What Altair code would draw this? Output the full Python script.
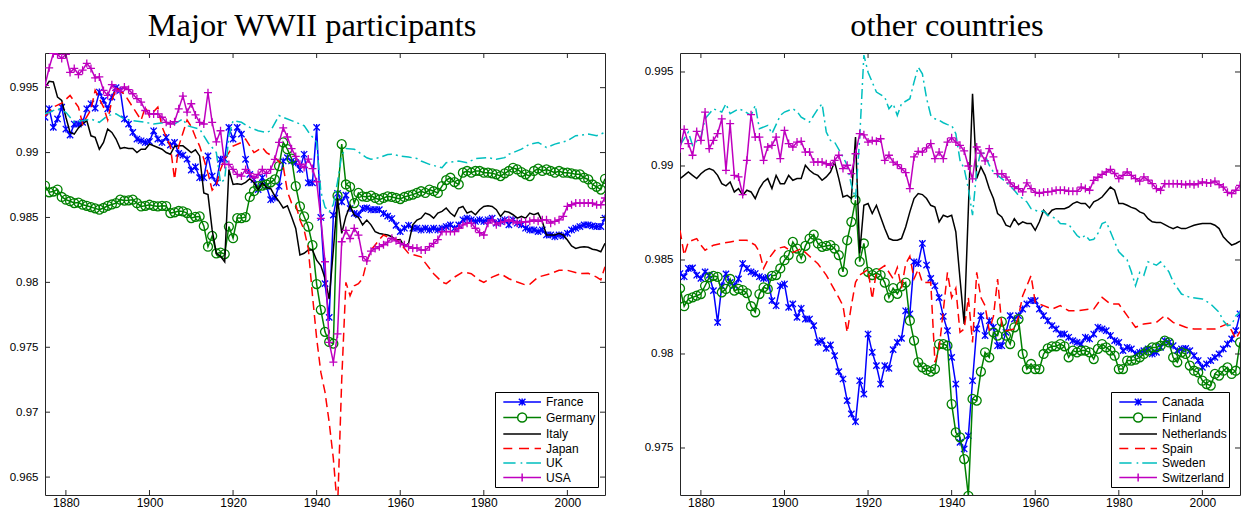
import altair as alt
import pandas as pd

YEARS = list(range(1875, 2010))
X_TICKS = [1880, 1900, 1920, 1940, 1960, 1980, 2000]
Y_TICKS_L = [0.965, 0.97, 0.975, 0.98, 0.985, 0.99, 0.995]
Y_TICKS_R = [0.975, 0.98, 0.985, 0.99, 0.995]

# ---------------- left panel: Major WWII participants ----------------
FRANCE = [
    .99272, .99337, .99194, .99259, .99350, .99181, .99135, .99220, .99220, .99233,
    .99337, .99376, .99342, .99466, .99402, .99337, .99427, .99500, .99480, .99259,
    .99220, .99155, .99104, .99091, .99078, .99085, .99168, .99104, .99078, .99117,
    .99057, .99078, .98994, .98980, .98950, .98865, .98890, .98806, .98806, .98974,
    .98819, .98767, .98948, .98950, .99194, .99104, .99194, .99142, .98948, .98832,
    .98793, .98715, .98806, .98740, .98637, .98650, .98741, .98935, .98961, .98935,
    .98922, .98870, .98987, .98767, .98767, .99194, .98500, .97990, .97730, .98518,
    .98685, .98621, .98672, .98569, .98531, .98520, .98569, .98574, .98560, .98560,
    .98560, .98531, .98510, .98492, .98440, .98391, .98417, .98440, .98417, .98417,
    .98404, .98417, .98404, .98417, .98404, .98417, .98430, .98443, .98417, .98443,
    .98482, .98495, .98482, .98469, .98482, .98469, .98482, .98495, .98456, .98469,
    .98482, .98443, .98482, .98456, .98443, .98417, .98404, .98404, .98391, .98404,
    .98365, .98365, .98352, .98365, .98358, .98378, .98404, .98417, .98430, .98443,
    .98443, .98435, .98430, .98430, .98495]
GERMANY = [
    .98746, .98694, .98700, .98715, .98658, .98637, .98625, .98611, .98615, .98598,
    .98590, .98580, .98570, .98560, .98573, .98590, .98600, .98610, .98637, .98630,
    .98632, .98637, .98610, .98585, .98590, .98598, .98590, .98585, .98590, .98588,
    .98534, .98540, .98550, .98547, .98534, .98495, .98505, .98508, .98435, .98275,
    .98358, .98223, .98230, .98218, .98430, .98340, .98495, .98495, .98503, .98658,
    .98702, .98741, .98745, .98754, .98770, .98793, .98896, .99078, .99026, .98953,
    .98741, .98585, .98508, .98430, .98287, .97987, .97789, .97619, .97541, .97528,
    .98668, .99065, .98754, .98736, .98611, .98689, .98663, .98658, .98668, .98650,
    .98637, .98650, .98663, .98658, .98650, .98642, .98658, .98668, .98676, .98689,
    .98702, .98689, .98715, .98702, .98689, .98741, .98788, .98806, .98772, .98754,
    .98845, .98858, .98845, .98858, .98858, .98845, .98845, .98840, .98832, .98819,
    .98840, .98858, .98883, .98870, .98850, .98832, .98819, .98858, .98876, .98858,
    .98870, .98858, .98845, .98858, .98845, .98845, .98840, .98832, .98832, .98806,
    .98793, .98754, .98736, .98715, .98798]
ITALY = [
    .99500, .99549, .99544, .99427, .99402, .99272, .99155, .99142, .99190, .99220,
    .99246, .99129, .99117, .99026, .99078, .99181, .99155, .99104, .99031, .99039,
    .99031, .99031, .99000, .99026, .99026, .99065, .99052, .99039, .99026, .99000,
    .98987, .99047, .99052, .99052, .99026, .99000, .99021, .98974, .98689, .98676,
    .98404, .98223, .98200, .98158, .98870, .98754, .98760, .98754, .98770, .98798,
    .98767, .98715, .98767, .98730, .98723, .98665, .98624, .98573, .98590, .98506,
    .98415, .98211, .98224, .98250, .98249, .98171, .98130, .98031, .97872, .98250,
    .98650, .98378, .98508, .98590, .98518, .98500, .98443, .98480, .98443, .98390,
    .98377, .98370, .98365, .98352, .98326, .98330, .98275, .98300, .98443, .98480,
    .98495, .98534, .98521, .98495, .98534, .98547, .98573, .98534, .98508, .98573,
    .98585, .98534, .98547, .98521, .98560, .98585, .98590, .98585, .98560, .98508,
    .98547, .98540, .98521, .98495, .98508, .98495, .98534, .98521, .98534, .98469,
    .98365, .98365, .98365, .98378, .98365, .98326, .98280, .98262, .98270, .98275,
    .98270, .98255, .98249, .98236, .98301]
JAPAN = [
    (1875, .99280), (1877, .99350), (1879, .99380), (1881, .99440), (1883, .99350),
    (1884, .99220), (1886, .99330), (1887, .99480), (1889, .99350), (1890, .99250),
    (1891, .99400), (1892, .99500), (1894, .99450), (1896, .99350), (1898, .99250),
    (1899, .99350), (1900, .99280), (1902, .99350), (1903, .99200), (1904, .99120),
    (1905, .99050), (1906, .98793), (1907, .99050), (1908, .99150), (1909, .99250),
    (1910, .99200), (1911, .99120), (1912, .99050), (1913, .98950), (1914, .98840),
    (1915, .98710), (1916, .98750), (1917, .98870), (1918, .98950), (1919, .99000),
    (1920, .99050), (1922, .99078), (1923, .99104), (1925, .99000), (1927, .99039),
    (1928, .99000), (1930, .98961), (1931, .98930), (1932, .98896), (1933, .98700),
    (1934, .98611), (1935, .98600), (1936, .98482), (1937, .98404), (1938, .98262),
    (1939, .97900), (1940, .97570), (1941, .97308), (1942, .97154), (1943, .96923),
    (1944, .96641), (1945, .96250), (1946, .97250), (1947, .98000), (1948, .97897),
    (1949, .97974), (1950, .97990), (1951, .98031), (1952, .98160), (1953, .98250),
    (1954, .98288), (1955, .98330), (1956, .98365), (1957, .98350), (1958, .98340),
    (1959, .98330), (1960, .98300), (1962, .98223), (1965, .98197), (1966, .98150),
    (1968, .98067), (1970, .98003), (1971, .97990), (1973, .98041), (1975, .98080),
    (1977, .98067), (1979, .98016), (1980, .98000), (1982, .98041), (1984, .98067),
    (1986, .98028), (1988, .98003), (1990, .97980), (1991, .97985), (1993, .98041),
    (1996, .98067), (1998, .98093), (2000, .98093), (2003, .98067), (2005, .98070),
    (2007, .98041), (2008, .98020), (2009, .98120)]
UK = [
    (1875, .99298), (1876, .99311), (1878, .99337), (1880, .99310), (1882, .99233),
    (1884, .99246), (1886, .99259), (1888, .99233), (1890, .99285), (1892, .99298),
    (1894, .99259), (1896, .99246), (1899, .99233), (1901, .99220), (1904, .99233),
    (1906, .99220), (1908, .99259), (1909, .99207), (1912, .99181), (1914, .99078),
    (1916, .99000), (1917, .98767), (1918, .98793), (1919, .99130), (1920, .99246),
    (1922, .99233), (1924, .99194), (1926, .99168), (1928, .99155), (1929, .99168),
    (1931, .99285), (1932, .99272), (1934, .99246), (1936, .99220), (1937, .99207),
    (1938, .99160), (1939, .99120), (1940, .99080), (1941, .98700), (1942, .98580),
    (1943, .98544), (1944, .98600), (1945, .98775), (1946, .98980), (1947, .99031),
    (1949, .99026), (1950, .99005), (1952, .98960), (1953, .98948), (1955, .98961),
    (1957, .98985), (1958, .98987), (1960, .98974), (1962, .98965), (1964, .98954),
    (1965, .98935), (1967, .98909), (1970, .98883), (1971, .98922), (1974, .98935),
    (1976, .98922), (1978, .98953), (1981, .98961), (1983, .98948), (1985, .98961),
    (1986, .98987), (1989, .99026), (1991, .99065), (1993, .99078), (1995, .99039),
    (1997, .99065), (2000, .99091), (2002, .99130), (2005, .99142), (2007, .99130),
    (2009, .99155)]
USA = [
    .99518, .99653, .99764, .99756, .99725, .99756, .99617, .99648, .99601, .99635,
    .99687, .99648, .99575, .99583, .99479, .99440, .99523, .99479, .99472, .99505,
    .99485, .99453, .99415, .99389, .99324, .99298, .99298, .99298, .99272, .99233,
    .99220, .99238, .99337, .99435, .99311, .99376, .99290, .99233, .99220, .99461,
    .99233, .99083, .99168, .98909, .98909, .98870, .98832, .98819, .98870, .98839,
    .98806, .98832, .98870, .98839, .98870, .98948, .99078, .99190, .99120, .99030,
    .98970, .98910, .98885, .98950, .98877, .98775, .98493, .98159, .97538, .97385,
    .97603, .98313, .98400, .98338, .98416, .98364, .98198, .98165, .98240, .98260,
    .98275, .98290, .98310, .98340, .98320, .98300, .98290, .98275, .98262, .98265,
    .98249, .98249, .98275, .98300, .98330, .98391, .98391, .98391, .98391, .98417,
    .98443, .98456, .98456, .98417, .98383, .98365, .98456, .98482, .98443, .98460,
    .98470, .98482, .98470, .98456, .98465, .98465, .98470, .98482, .98470, .98482,
    .98482, .98456, .98470, .98482, .98508, .98585, .98598, .98611, .98611, .98611,
    .98611, .98611, .98598, .98598, .98650]

# ---------------- right panel: other countries ----------------
CANADA = [
    .98428, .98411, .98455, .98458, .98419, .98402, .98437, .98419, .98337, .98168,
    .98363, .98426, .98381, .98363, .98399, .98481, .98455, .98437, .98428, .98411,
    .98402, .98408, .98284, .98257, .98363, .98372, .98248, .98266, .98195, .98243,
    .98186, .98186, .98151, .98062, .98071, .98030, .98048, .97991, .97906, .97867,
    .97752, .97681, .97640, .97858, .97787, .98106, .98009, .97938, .97840, .97938,
    .97924, .98023, .98062, .98083, .98230, .98213, .98490, .98481, .98588, .98473,
    .98402, .98363, .98300, .98200, .98124, .97982, .97840, .97530, .97495, .97566,
    .97858, .98133, .98204, .98098, .98177, .98142, .98044, .98044, .98115, .98204,
    .98186, .98204, .98239, .98266, .98284, .98284, .98239, .98204, .98177, .98151,
    .98133, .98106, .98106, .98089, .98071, .98062, .98053, .98089, .98080, .98106,
    .98142, .98133, .98124, .98098, .98071, .98062, .98018, .98035, .98027, .98000,
    .98009, .98018, .98027, .98000, .98009, .98035, .98071, .98062, .98044, .98018,
    .98027, .98030, .98018, .97991, .97965, .97929, .97947, .97965, .97982, .98000,
    .98027, .98053, .98080, .98124, .98213]
FINLAND = [
    .98349, .98254, .98293, .98301, .98310, .98319, .98363, .98408, .98416, .98410,
    .98328, .98346, .98399, .98337, .98346, .98340, .98324, .98254, .98222, .98319,
    .98355, .98346, .98416, .98420, .98455, .98499, .98526, .98596, .98561, .98508,
    .98575, .98614, .98635, .98588, .98570, .98575, .98579, .98561, .98526, .98437,
    .98605, .98703, .98818, .98491, .98588, .98437, .98420, .98430, .98420, .98380,
    .98300, .98350, .98320, .98360, .98380, .98177, .98071, .97956, .97929, .97915,
    .97906, .97920, .98053, .98053, .98044, .97734, .97583, .97557, .97441, .97246,
    .97761, .97752, .97906, .98009, .97982, .98115, .98098, .98172, .98098, .98053,
    .98142, .98186, .98000, .97920, .97947, .97920, .97920, .98000, .98030, .98041,
    .98041, .98053, .98041, .97982, .98018, .98009, .98018, .98018, .98009, .97973,
    .98027, .98053, .98035, .98018, .97991, .97920, .97920, .97965, .97965, .97970,
    .97982, .98000, .98018, .98035, .98035, .98044, .98071, .98062, .97982, .97956,
    .98009, .98000, .97938, .97911, .97902, .97858, .97840, .97832, .97894, .97885,
    .97911, .97929, .97894, .97911, .98062]
NETHERLANDS = [
    .98933, .98950, .98968, .98950, .98933, .98959, .98977, .98986, .98977, .98950,
    .98906, .98894, .98915, .98862, .98880, .98844, .98871, .98862, .98827, .98880,
    .98915, .98933, .98880, .98950, .98906, .98906, .98950, .98924, .98933, .98933,
    .99004, .98977, .98959, .98950, .98924, .98942, .98968, .99021, .98933, .98835,
    .98844, .98827, .99154, .98535, .98791, .98800, .98747, .98791, .98729, .98667,
    .98614, .98605, .98605, .98614, .98676, .98756, .98827, .98853, .98848, .98827,
    .98791, .98782, .98703, .98738, .98729, .98738, .98650, .98400, .98160, .98770,
    .99384, .98933, .98995, .98950, .98880, .98827, .98747, .98729, .98685, .98676,
    .98720, .98688, .98703, .98694, .98694, .98658, .98703, .98765, .98738, .98765,
    .98773, .98773, .98773, .98782, .98800, .98809, .98800, .98800, .98777, .98809,
    .98820, .98835, .98862, .98888, .98871, .98800, .98800, .98791, .98780, .98773,
    .98756, .98747, .98720, .98703, .98700, .98700, .98688, .98676, .98667, .98676,
    .98667, .98667, .98676, .98685, .98690, .98694, .98694, .98694, .98685, .98667,
    .98623, .98600, .98579, .98588, .98600]
SPAIN = [
    (1875, .98658), (1876, .98526), (1877, .98596), (1879, .98614), (1880, .98579),
    (1881, .98552), (1883, .98579), (1885, .98588), (1887, .98596), (1889, .98605),
    (1891, .98605), (1893, .98579), (1894, .98543), (1895, .98455), (1896, .98500),
    (1898, .98560), (1900, .98570), (1902, .98540), (1904, .98560), (1906, .98520),
    (1908, .98480), (1910, .98420), (1911, .98380), (1913, .98300), (1914, .98257),
    (1915, .98115), (1916, .98257), (1917, .98381), (1918, .98420), (1920, .98450),
    (1921, .98292), (1922, .98440), (1924, .98470), (1926, .98400), (1927, .98460),
    (1928, .98350), (1929, .98480), (1930, .98520), (1931, .98400), (1932, .98450),
    (1933, .98380), (1935, .98381), (1936, .97956), (1937, .98027), (1939, .98434),
    (1940, .98300), (1941, .98350), (1942, .98115), (1943, .98133), (1944, .98300),
    (1945, .98062), (1946, .98434), (1947, .98300), (1948, .98257), (1949, .98124),
    (1950, .98200), (1951, .98399), (1952, .98151), (1953, .98124), (1955, .98133),
    (1956, .98200), (1957, .98310), (1959, .98417), (1960, .98275), (1962, .98257),
    (1964, .98239), (1966, .98257), (1968, .98230), (1970, .98230), (1973, .98239),
    (1974, .98239), (1976, .98301), (1978, .98266), (1980, .98266), (1982, .98204),
    (1984, .98142), (1986, .98160), (1989, .98168), (1991, .98204), (1993, .98168),
    (1996, .98142), (1998, .98133), (2001, .98133), (2003, .98133), (2006, .98160),
    (2007, .98124), (2008, .98080), (2009, .98120)]
SWEDEN = [
    (1875, .99110), (1877, .99181), (1878, .99110), (1880, .99154), (1881, .99251),
    (1883, .99304), (1885, .99287), (1886, .99331), (1887, .99278), (1889, .99304),
    (1890, .99296), (1892, .99269), (1893, .99322), (1894, .99198), (1896, .99216),
    (1897, .99172), (1899, .99269), (1900, .99287), (1902, .99304), (1903, .99290),
    (1904, .99260), (1906, .99234), (1907, .99269), (1908, .99304), (1909, .99331),
    (1910, .99181), (1911, .99136), (1912, .99127), (1914, .99048), (1915, .99004),
    (1916, .98900), (1917, .98827), (1918, .99150), (1919, .99590), (1920, .99499),
    (1921, .99446), (1922, .99393), (1924, .99366), (1925, .99304), (1926, .99331),
    (1927, .99269), (1928, .99331), (1930, .99358), (1931, .99446), (1932, .99526),
    (1933, .99490), (1934, .99360), (1935, .99270), (1936, .99251), (1937, .99243),
    (1938, .99230), (1939, .99220), (1940, .99216), (1941, .99172), (1942, .99030),
    (1943, .98986), (1944, .98880), (1945, .98738), (1946, .98977), (1947, .99083),
    (1948, .99057), (1949, .99004), (1950, .98968), (1951, .98950), (1953, .98915),
    (1955, .98871), (1956, .98844), (1958, .98809), (1959, .98773), (1961, .98756),
    (1962, .98760), (1963, .98738), (1965, .98720), (1966, .98694), (1968, .98690),
    (1970, .98630), (1971, .98614), (1972, .98632), (1973, .98605), (1974, .98610),
    (1975, .98641), (1976, .98694), (1977, .98703), (1978, .98650), (1979, .98596),
    (1980, .98543), (1982, .98500), (1983, .98437), (1984, .98363), (1985, .98434),
    (1986, .98419), (1987, .98490), (1989, .98472), (1990, .98490), (1992, .98437),
    (1993, .98384), (1995, .98319), (1997, .98301), (2000, .98293), (2002, .98266),
    (2004, .98222), (2005, .98177), (2006, .98151), (2007, .98155), (2008, .98204),
    (2009, .98222)]
SWITZERLAND = [
    .99092, .99195, .99119, .99057, .99184, .99136, .99287, .99092, .99136, .99172,
    .99251, .98977, .99225, .98950, .98942, .98848, .99030, .99273, .99154, .99154,
    .99030, .99101, .99110, .99154, .99039, .99189, .99119, .99101, .99127, .99131,
    .99074, .99074, .99021, .99021, .99021, .99012, .99004, .99030, .99057, .98986,
    .99004, .98959, .99065, .99172, .99166, .99127, .99136, .99131, .99145, .99030,
    .99057, .99021, .99007, .98986, .98965, .98880, .99048, .99078, .99074, .99096,
    .99119, .99039, .99074, .99039, .99127, .99150, .99127, .99110, .99080, .99000,
    .98932, .99101, .99068, .99027, .99092, .99048, .98959, .98959, .98941, .98910,
    .98890, .98880, .98862, .98910, .98880, .98860, .98855, .98860, .98862, .98865,
    .98871, .98871, .98871, .98865, .98865, .98865, .98888, .98880, .98871, .98924,
    .98940, .98955, .98968, .98982, .98960, .98933, .98950, .98968, .98950, .98933,
    .98919, .98942, .98925, .98906, .98880, .98871, .98906, .98906, .98906, .98906,
    .98904, .98900, .98906, .98900, .98906, .98915, .98910, .98910, .98919, .98901,
    .98888, .98860, .98853, .98871, .98897]

LEFT_NAMES = ["France", "Germany", "Italy", "Japan", "UK", "USA"]
RIGHT_NAMES = ["Canada", "Finland", "Netherlands", "Spain", "Sweden", "Switzerland"]
LEFT_DATA = [FRANCE, GERMANY, ITALY, JAPAN, UK, USA]
RIGHT_DATA = [CANADA, FINLAND, NETHERLANDS, SPAIN, SWEDEN, SWITZERLAND]

# ---------------- styles ----------------
COLORS = ["#0000ff", "#008000", "#000000", "#ff0000", "#00bfbf", "#bf00bf"]
DASHES = [None, None, None, [9, 5], [10, 4, 2, 4], None]
STAR = "M-1,-1L1,1M-1,1L1,-1M0,-1.1L0,1.1"
PLUS = "M-1,0L1,0M0,-1L0,1"
MARKERS = {0: (STAR, 40), 1: ("circle", 80), 5: (PLUS, 64)}
LEG_PATHS = [
    "M-0.24,0L5.14,0M1.98,-0.47L2.92,0.47M1.98,0.47L2.92,-0.47M2.45,-0.5L2.45,0.5",
    "M-0.24,0L1.81,0M3.09,0L5.14,0M1.81,0A0.64,0.64 0 1,0 3.09,0A0.64,0.64 0 1,0 1.81,0",
    "M-0.24,0L5.14,0",
    "M-0.24,0L1.04,0M2,0L3.43,0M4.23,0L5.14,0",
    "M-0.24,0L1.51,0M2.23,0L2.47,0M3.04,0L5.14,0",
    "M-0.24,0L5.14,0M2.45,-0.57L2.45,0.57",
]

W, H = 560, 442
TICK = 5
FONT = "Liberation Sans"


def frame(names, datasets):
    rows = []
    for name, data in zip(names, datasets):
        pairs = data if isinstance(data[0], tuple) else list(zip(YEARS, data))
        for yr, v in pairs:
            rows.append({"year": yr, "value": v, "country": name})
    return pd.DataFrame(rows)


def panel(names, datasets, ydom, yticks, title, lx, ly):
    df = frame(names, datasets)
    xs = alt.Scale(domain=[1875, 2009], nice=False, zero=False)
    ys = alt.Scale(domain=ydom, nice=False, zero=False)
    xaxis = alt.Axis(values=X_TICKS, format="d", ticks=False, domain=False, grid=False,
                     labelPadding=2, labelFont=FONT, labelFontSize=12, labelColor="black",
                     title=None)
    yaxis = alt.Axis(values=yticks, format="~g", ticks=False, domain=False, grid=False,
                     labelPadding=7, labelFont=FONT, labelFontSize=11.5, labelColor="black",
                     title=None)
    xenc = alt.X("year:Q", scale=xs, axis=xaxis)
    yenc = alt.Y("value:Q", scale=ys, axis=yaxis)
    base = alt.Chart(df)
    layers = []
    for i, name in enumerate(names):
        sub = base.transform_filter(alt.datum.country == name)
        line_kw = dict(clip=True, strokeWidth=1.5, color=COLORS[i])
        if DASHES[i]:
            line_kw["strokeDash"] = DASHES[i]
        layers.append(sub.mark_line(**line_kw).encode(x=xenc, y=yenc))
        if i in MARKERS:
            shape, size = MARKERS[i]
            layers.append(
                sub.mark_point(shape=shape, size=size, filled=False, strokeWidth=1.3,
                               color=COLORS[i], opacity=1, clip=True)
                .encode(x=xenc, y=yenc)
            )
    leg = alt.Legend(title=None, orient="none", legendX=lx, legendY=ly,
                     symbolSize=196, symbolStrokeWidth=1.5, symbolFillColor="transparent",
                     symbolOpacity=1, labelOffset=33, labelFont=FONT, labelFontSize=12,
                     labelColor="black", fillColor="white", strokeColor="black",
                     padding=2, rowPadding=0.5)
    layers.append(
        base.transform_filter("false").mark_point(filled=False, opacity=1).encode(
            shape=alt.Shape("country:N", scale=alt.Scale(domain=names, range=LEG_PATHS), legend=leg),
            stroke=alt.Stroke("country:N", scale=alt.Scale(domain=names, range=COLORS), legend=leg),
        )
    )
    xt = alt.Chart(pd.DataFrame({"year": X_TICKS}))
    yt = alt.Chart(pd.DataFrame({"value": yticks}))
    tick_style = dict(color="#262626", strokeWidth=1)
    layers += [
        xt.mark_rule(**tick_style).encode(x=xenc, y=alt.value(0), y2=alt.value(TICK)),
        xt.mark_rule(**tick_style).encode(x=xenc, y=alt.value(H), y2=alt.value(H - TICK)),
        yt.mark_rule(**tick_style).encode(y=yenc, x=alt.value(0), x2=alt.value(TICK)),
        yt.mark_rule(**tick_style).encode(y=yenc, x=alt.value(W), x2=alt.value(W - TICK)),
    ]
    return alt.layer(*layers).properties(
        width=W, height=H,
        title=alt.Title(title, font="Liberation Serif", fontSize=32.4, fontWeight="normal",
                        color="black", anchor="middle", offset=10, dx=-13),
    )


left = panel(LEFT_NAMES, LEFT_DATA, [0.96362, 0.99767], Y_TICKS_L,
             "Major WWII participants", 450, 339)
right = panel(RIGHT_NAMES, RIGHT_DATA, [0.9725, 0.99601], Y_TICKS_R,
              "other countries", 431, 339)

chart = (
    alt.hconcat(left, right, spacing=37)
    .resolve_scale(shape="independent", stroke="independent")
    .resolve_legend(shape="independent", stroke="independent")
    .properties(padding={"left": 0, "top": 1, "right": 0, "bottom": 0})
    .configure_view(stroke="#262626", strokeWidth=1)
)

chart.save("out.html", embed_options={"renderer": "svg", "actions": False})
